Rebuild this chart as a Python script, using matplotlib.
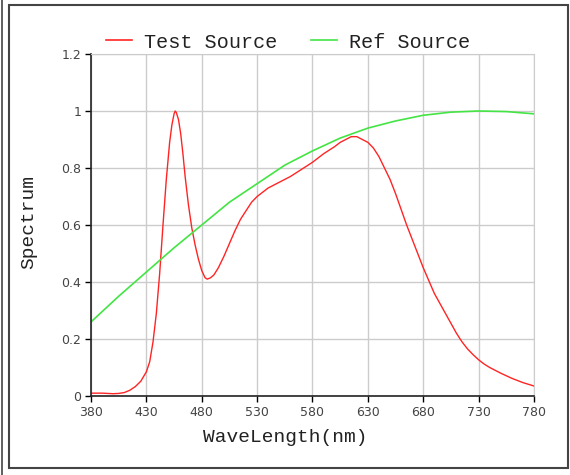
import matplotlib.pyplot as plt
import numpy as np
from matplotlib.patches import Rectangle
from matplotlib.lines import Line2D

# Datos
test_wl = [380, 390, 400, 405, 410, 415, 420, 425, 430, 433, 436, 439, 442, 445, 448, 451, 453, 455, 456,
           457, 459, 461, 463, 465, 468, 471, 474, 477, 480, 483, 485, 488, 491, 495, 500, 505, 510, 515,
           520, 525, 530, 535, 540, 550, 560, 570, 580, 590, 600, 605, 610, 615, 620, 625, 630, 635,
           640, 645, 650, 655, 660, 665, 670, 675, 680, 685, 690, 695, 700, 705, 710, 715, 720, 725,
           730, 735, 740, 750, 760, 770, 780]
test_val = [0.01, 0.01, 0.008, 0.009, 0.012, 0.02, 0.033, 0.052, 0.085, 0.12, 0.19, 0.29, 0.43, 0.60, 0.76, 0.89, 0.95, 0.99, 1.0,
            0.995, 0.97, 0.92, 0.85, 0.77, 0.67, 0.59, 0.53, 0.48, 0.44, 0.415, 0.41, 0.415, 0.425, 0.45, 0.49, 0.535, 0.58, 0.62,
            0.65, 0.68, 0.70, 0.715, 0.73, 0.75, 0.77, 0.795, 0.82, 0.85, 0.875, 0.89, 0.90, 0.91, 0.91, 0.90, 0.89, 0.87,
            0.84, 0.80, 0.76, 0.71, 0.655, 0.60, 0.55, 0.50, 0.45, 0.405, 0.36, 0.325, 0.29, 0.255, 0.22, 0.19, 0.165, 0.145,
            0.127, 0.112, 0.10, 0.08, 0.062, 0.047, 0.035]

ref_wl = [380, 405, 430, 455, 480, 505, 530, 555, 580, 605, 630, 655, 680, 705, 730, 755, 780]
ref_val = [0.26, 0.35, 0.435, 0.52, 0.60, 0.68, 0.745, 0.81, 0.86, 0.905, 0.94, 0.965, 0.985, 0.996, 1.0, 0.998, 0.99]

xticks = [380, 430, 480, 530, 580, 630, 680, 730, 780]
yticks = [0, 0.2, 0.4, 0.6, 0.8, 1, 1.2]
ytick_labels = ["0", "0.2", "0.4", "0.6", "0.8", "1", "1.2"]

mono = "Liberation Mono"

fig = plt.figure(figsize=(5.7, 4.75), dpi=100)
ax = fig.add_axes([91 / 570, 1 - 396 / 475, 443 / 570, 342 / 475])

ax.plot(test_wl, test_val, color="#ff2424", lw=1.0)
ax.plot(ref_wl, ref_val, color="#44e444", lw=1.2)

ax.set_xlim(380, 780)
ax.set_ylim(0, 1.2)
ax.set_xticks(xticks)
ax.set_yticks(yticks)
ax.set_yticklabels(ytick_labels)
ax.tick_params(labelsize=9, labelcolor="#444444", length=4, width=1, direction="out", pad=3)
ax.grid(True, color="#cccccc", lw=1)
ax.set_axisbelow(True)
for s in ["top", "right"]:
    ax.spines[s].set_color("#cccccc")
for s in ["left", "bottom"]:
    ax.spines[s].set_color("#222222")
    ax.spines[s].set_linewidth(1.2)

ax.set_xlabel("WaveLength(nm)", family=mono, fontsize=14, color="#222222")
ax.xaxis.set_label_coords((285 - 91) / 443, -(429 - 396) / 342)
ax.set_ylabel("Spectrum", family=mono, fontsize=14, color="#222222")
ax.yaxis.set_label_coords(-(91 - 37) / 443, (396 - 222) / 342)

handles = [Line2D([], [], color="#ff2424", lw=1.2), Line2D([], [], color="#44e444", lw=1.2)]
fig.legend(handles, ["Test Source", "Ref Source"], loc="center", bbox_to_anchor=(288 / 570, 1 - 42 / 475),
           ncol=2, frameon=False, prop={"family": mono, "size": 14.5}, handlelength=1.3,
           columnspacing=1.65, handletextpad=0.6, borderpad=0, labelcolor="#222222")

# marco exterior
fig.patches.append(Rectangle((9 / 570, 1 - 468 / 475), 559 / 570, 463 / 475, transform=fig.transFigure,
                             fill=False, edgecolor="#444444", lw=1.5))
fig.lines.append(Line2D([2 / 570, 2 / 570], [0, 1], transform=fig.transFigure, color="#444444", lw=1.2))

fig.savefig("out.png", dpi=100, facecolor="white")
